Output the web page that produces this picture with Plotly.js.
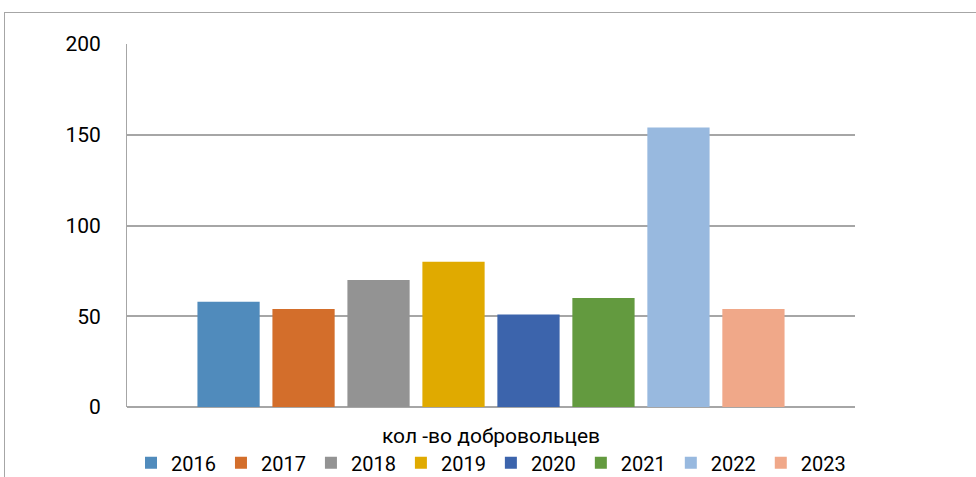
<!DOCTYPE html>
<html><head><meta charset="utf-8">
<script src="https://cdn.plot.ly/plotly-3.0.1.min.js"></script>
<style>body{margin:0;background:#fff}#wrap{position:relative;width:976px;height:477px}
#frame{position:absolute;left:4px;top:12px;width:972px;height:465px;border-top:1px solid #a6a6a6;border-left:1px solid #a6a6a6;pointer-events:none}</style>
</head><body><div id="wrap"><div id="chart" style="width:976px;height:477px"></div><div id="frame"></div></div>
<script>
const category = ["кол -во добровольцев"];
const years = ["2016","2017","2018","2019","2020","2021","2022","2023"];
const values = [58, 54, 70, 80, 51, 60, 154, 54];
const colors = ["#508BBC","#D36E2B","#939393","#E0AA00","#3C64AC","#639A3F","#98B9DF","#F0A889"];
const font = "Roboto, 'Noto Sans', sans-serif";
const traces = years.map((y,i)=>({type:'bar', name:y, x:category, y:[values[i]], marker:{color:colors[i]}}));
Plotly.newPlot('chart', traces, {
  width:976, height:477,
  margin:{l:127, r:121, t:44, b:70},
  barmode:'group', bargap:0.176, bargroupgap:0.17,
  paper_bgcolor:'#fff', plot_bgcolor:'#fff',
  font:{family:font, size:20, color:'#000'},
  xaxis:{showline:false, ticks:'', ticklabelstandoff:14, tickfont:{size:21}},
  yaxis:{range:[0,200], dtick:50, showgrid:true, gridcolor:'#a6a6a6', gridwidth:1.5,
         showline:true, linecolor:'#a6a6a6', linewidth:1, zeroline:true, zerolinecolor:'#a6a6a6', zerolinewidth:1.5,
         ticks:'', ticklabelstandoff:21, tickfont:{size:21}},
  showlegend:true,
  legend:{orientation:'h', x:0.5, xanchor:'center', xref:'paper', yref:'container', y:0.03, yanchor:'middle', font:{size:20},
          bgcolor:'rgba(0,0,0,0)', traceorder:'normal', itemwidth:30}
}, {displayModeBar:false});
</script></body></html>
